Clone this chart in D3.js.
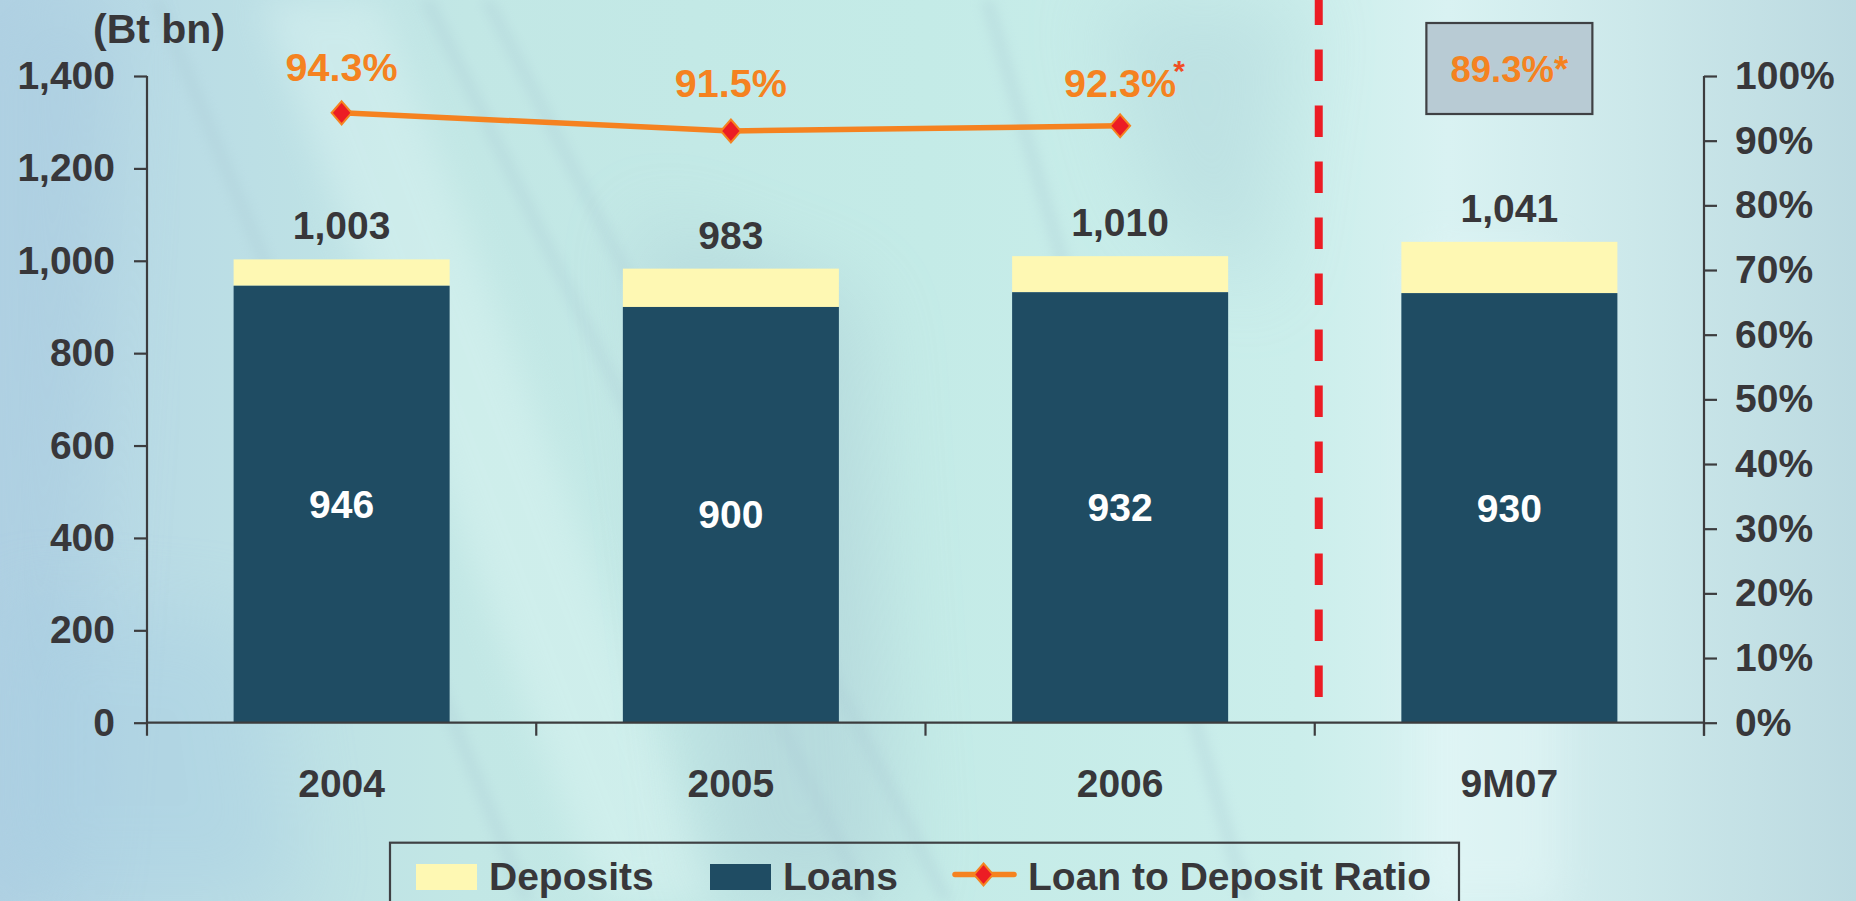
<!DOCTYPE html>
<html>
<head>
<meta charset="utf-8">
<script src="https://cdn.jsdelivr.net/npm/d3@7"></script>
<style>
  html, body { margin: 0; padding: 0; overflow: hidden; }
  svg { display: block; font-family: "Liberation Sans", Arial, Helvetica, sans-serif; font-weight: bold; }
</style>
</head>
<body>
<svg id="chart" width="1856" height="901"></svg>
<script>
// data
const categories = ['2004', '2005', '2006', '9M07'];
const loans = [946, 900, 932, 930];
const deposits = [1003, 983, 1010, 1041];
const ratios = [94.3, 91.5, 92.3, 89.3];
const ratioStar = [false, false, true, true];
const leftTicks = [0, 200, 400, 600, 800, 1000, 1200, 1400];
const rightTicks = [0, 10, 20, 30, 40, 50, 60, 70, 80, 90, 100];
const legendLabels = ['Deposits', 'Loans', 'Loan to Deposit Ratio'];

const colors = {
    loans: '#1f4c63',
    deposits: '#fef8b3',
    line: '#f58220',
    marker: '#ec1c24',
    text: '#38373a',
    axis: '#3c3c3e',
    star: '#f04e23',
    box: '#b8cbd4'
};

const W = 1856, H = 901;
const plotLeft = 147, plotRight = 1704, plotTop = 76, plotBottom = 722.7;

const svg = d3.select('#chart');
const defs = svg.append('defs');

// background: soft teal wash with diagonal streaks
const grad = defs.append('linearGradient').attr('id', 'bg').attr('x1', 0).attr('x2', 1).attr('y1', 0).attr('y2', 0);
[[0, '#b1d2e3'], [0.08, '#b9dbe5'], [0.25, '#c2e7e5'], [0.5, '#c4ebe7'], [0.7, '#cbeeeb'],
 [0.78, '#d9f2f2'], [0.88, '#cce8ea'], [1, '#bcdae1']].forEach(s => {
    grad.append('stop').attr('offset', s[0]).attr('stop-color', s[1]);
});
defs.append('filter').attr('id', 'blur').attr('x', '-50%').attr('y', '-50%').attr('width', '200%').attr('height', '200%')
    .append('feGaussianBlur').attr('stdDeviation', 18);
defs.append('filter').attr('id', 'blur2').attr('x', '-50%').attr('y', '-50%').attr('width', '200%').attr('height', '200%')
    .append('feGaussianBlur').attr('stdDeviation', 40);
defs.append('filter').attr('id', 'blur3').attr('x', '-50%').attr('y', '-50%').attr('width', '200%').attr('height', '200%')
    .append('feGaussianBlur').attr('stdDeviation', 6);

svg.append('rect').attr('width', W).attr('height', H).attr('fill', 'url(#bg)');

const streaks = svg.append('g');
streaks.append('path').attr('d', 'M0,0 L120,0 L60,901 L0,901 Z')
    .attr('fill', '#a9cbe0').attr('opacity', 0.5).attr('filter', 'url(#blur2)');
streaks.append('path').attr('d', 'M260,0 L380,0 L720,901 L600,901 Z')
    .attr('fill', '#e6fbf8').attr('opacity', 0.35).attr('filter', 'url(#blur)');
streaks.append('path').attr('d', 'M640,220 L860,300 L900,901 L720,901 Z')
    .attr('fill', '#9fbfcc').attr('opacity', 0.35).attr('filter', 'url(#blur2)');
streaks.append('path').attr('d', 'M1100,0 L1300,0 L1260,300 L1150,200 Z')
    .attr('fill', '#a8ccd6').attr('opacity', 0.35).attr('filter', 'url(#blur2)');
streaks.append('path').attr('d', 'M1420,250 L1560,250 L1560,901 L1420,901 Z')
    .attr('fill', '#e4f7f7').attr('opacity', 0.5).attr('filter', 'url(#blur)');
streaks.append('path').attr('d', 'M0,600 L260,620 L300,901 L0,901 Z')
    .attr('fill', '#a6cde2').attr('opacity', 0.4).attr('filter', 'url(#blur2)');
// thin diagonal filaments
[[150, 520], [420, 860], [480, 940], [980, 1240]].forEach(p => {
    streaks.append('path').attr('d', `M${p[0]},0 L${p[0] + 14},0 L${p[1] + 14},901 L${p[1]},901 Z`)
        .attr('fill', '#a9c9d3').attr('opacity', 0.3).attr('filter', 'url(#blur3)');
});

// scales
const x = d3.scaleBand().domain(categories).range([plotLeft, plotRight]).paddingInner(0.445).paddingOuter(0.2225);
const y = d3.scaleLinear().domain([0, 1400]).range([plotBottom, plotTop]);
const y2 = d3.scaleLinear().domain([0, 100]).range([plotBottom, plotTop]);
const step = x.step();

// bars
const bars = svg.append('g');
bars.selectAll('rect.dep').data(categories).join('rect')
    .attr('class', 'dep')
    .attr('x', d => x(d))
    .attr('width', x.bandwidth())
    .attr('y', (d, i) => y(deposits[i]))
    .attr('height', (d, i) => y(loans[i]) - y(deposits[i]))
    .attr('fill', colors.deposits);
bars.selectAll('rect.loan').data(categories).join('rect')
    .attr('class', 'loan')
    .attr('x', d => x(d))
    .attr('width', x.bandwidth())
    .attr('y', (d, i) => y(loans[i]))
    .attr('height', (d, i) => y(0) - y(loans[i]))
    .attr('fill', colors.loans);

// value labels
bars.selectAll('text.total').data(categories).join('text')
    .attr('class', 'total')
    .attr('x', d => x(d) + x.bandwidth() / 2)
    .attr('y', (d, i) => y(deposits[i]) - 20)
    .attr('text-anchor', 'middle')
    .style('font-size', '39px')
    .attr('fill', colors.text)
    .text((d, i) => d3.format(',')(deposits[i]));
bars.selectAll('text.inner').data(categories).join('text')
    .attr('class', 'inner')
    .attr('x', d => x(d) + x.bandwidth() / 2)
    .attr('y', (d, i) => (y(loans[i]) + y(0)) / 2)
    .attr('dy', '0.35em')
    .attr('text-anchor', 'middle')
    .style('font-size', '39px')
    .attr('fill', '#ffffff')
    .text((d, i) => loans[i]);

// separator before the partial year
const sepX = x('9M07') - step * x.paddingInner() / 2 + 4;
svg.append('line')
    .attr('x1', sepX).attr('x2', sepX)
    .attr('y1', 697).attr('y2', -10)
    .attr('stroke', '#ec1c24')
    .attr('stroke-width', 8)
    .attr('stroke-dasharray', '31.5 24.5');

// left axis
const yAxis = svg.append('g')
    .attr('transform', `translate(${plotLeft},0)`)
    .call(d3.axisLeft(y).tickValues(leftTicks).tickSize(13).tickSizeOuter(0).tickPadding(19).tickFormat(d3.format(',')));
// right axis
const y2Axis = svg.append('g')
    .attr('transform', `translate(${plotRight},0)`)
    .call(d3.axisRight(y2).tickValues(rightTicks).tickSize(13).tickSizeOuter(0).tickPadding(18).tickFormat(d => d + '%'));

[yAxis, y2Axis].forEach(g => {
    g.select('.domain').attr('stroke', colors.axis).attr('stroke-width', 2.2)
        .attr('d', `M0,${plotTop}V${plotBottom + 13}`);
    g.selectAll('.tick line').attr('stroke', colors.axis).attr('stroke-width', 2.2);
    g.selectAll('.tick text').attr('fill', colors.text).style('font-size', '39px')
        .style('font-family', '"Liberation Sans", Arial, sans-serif').style('font-weight', 'bold');
});

// bottom axis: line with ticks at the band edges, labels under the centres
const xAxis = svg.append('g');
xAxis.append('line')
    .attr('x1', plotLeft).attr('x2', plotRight)
    .attr('y1', plotBottom).attr('y2', plotBottom)
    .attr('stroke', colors.axis).attr('stroke-width', 2.2);
xAxis.selectAll('line.edge').data(categories).join('line')
    .attr('class', 'edge')
    .attr('x1', d => x(d) + x.bandwidth() / 2 + step / 2)
    .attr('x2', d => x(d) + x.bandwidth() / 2 + step / 2)
    .attr('y1', plotBottom).attr('y2', plotBottom + 13)
    .attr('stroke', colors.axis).attr('stroke-width', 2.2);
xAxis.selectAll('text').data(categories).join('text')
    .attr('x', d => x(d) + x.bandwidth() / 2)
    .attr('y', 797)
    .attr('text-anchor', 'middle')
    .style('font-size', '39px')
    .attr('fill', colors.text)
    .text(d => d);

// unit label
svg.append('text')
    .attr('x', 93).attr('y', 43)
    .style('font-size', '41px')
    .attr('fill', colors.text)
    .text('(Bt bn)');

// ratio line (full years only)
const cx = d => x(d) + x.bandwidth() / 2;
const lineCats = categories.slice(0, 3);
const diamond = (px, py, hw, hh) => `M${px},${py - hh}L${px + hw},${py}L${px},${py + hh}L${px - hw},${py}Z`;

svg.append('path')
    .datum(lineCats)
    .attr('d', d3.line().x(d => cx(d)).y((d, i) => y2(ratios[i])))
    .attr('fill', 'none')
    .attr('stroke', colors.line)
    .attr('stroke-width', 5.5);
svg.selectAll('path.mark').data(lineCats).join('path')
    .attr('class', 'mark')
    .attr('d', (d, i) => diamond(cx(d), y2(ratios[i]), 10, 11.5))
    .attr('fill', colors.marker)
    .attr('stroke', colors.line)
    .attr('stroke-width', 2);

const ratioLabels = svg.append('g');
lineCats.forEach((d, i) => {
    const by = i === 0 ? y2(ratios[i]) - 32 : 97;
    const t = ratioLabels.append('text')
        .attr('x', cx(d)).attr('y', by)
        .attr('text-anchor', 'middle')
        .style('font-size', '39.5px')
        .attr('fill', colors.line)
        .text(ratios[i].toFixed(1) + '%');
    if (ratioStar[i]) {
        const len = t.node().getComputedTextLength();
        ratioLabels.append('text')
            .attr('x', cx(d) + len / 2 - 3).attr('y', by - 16)
            .style('font-size', '30px')
            .attr('fill', colors.star)
            .text('*');
    }
});

// boxed year-to-date ratio
const last = categories[3];
svg.append('rect')
    .attr('x', cx(last) - 83).attr('y', plotTop - 53)
    .attr('width', 166).attr('height', 91)
    .attr('fill', colors.box)
    .attr('stroke', '#3f4144').attr('stroke-width', 2.2);
svg.append('text')
    .attr('x', cx(last)).attr('y', 81.7)
    .attr('text-anchor', 'middle')
    .style('font-size', '36.5px')
    .attr('fill', colors.line)
    .text(ratios[3].toFixed(1) + '%' + (ratioStar[3] ? '*' : ''));

// legend
const legend = svg.append('g');
legend.append('rect')
    .attr('x', 390).attr('y', 842.7)
    .attr('width', 1069).attr('height', 80)
    .attr('fill', 'none')
    .attr('stroke', '#3f4144').attr('stroke-width', 2.2);
const legendX = [416, 710, 952];
const textX = [489, 783, 1028];
legend.append('rect').attr('x', legendX[0]).attr('y', 864).attr('width', 61).attr('height', 26).attr('fill', colors.deposits);
legend.append('rect').attr('x', legendX[1]).attr('y', 864).attr('width', 61).attr('height', 26).attr('fill', colors.loans);
legend.append('line')
    .attr('x1', legendX[2] + 3).attr('x2', legendX[2] + 62)
    .attr('y1', 874.5).attr('y2', 874.5)
    .attr('stroke', colors.line).attr('stroke-width', 5.5).attr('stroke-linecap', 'round');
legend.append('path')
    .attr('d', diamond(legendX[2] + 31.5, 874.5, 9.5, 11))
    .attr('fill', colors.marker).attr('stroke', colors.line).attr('stroke-width', 2);
legend.selectAll('text').data(legendLabels).join('text')
    .attr('x', (d, i) => textX[i]).attr('y', 890)
    .style('font-size', '39px')
    .attr('fill', colors.text)
    .text(d => d);
</script>
</body>
</html>
